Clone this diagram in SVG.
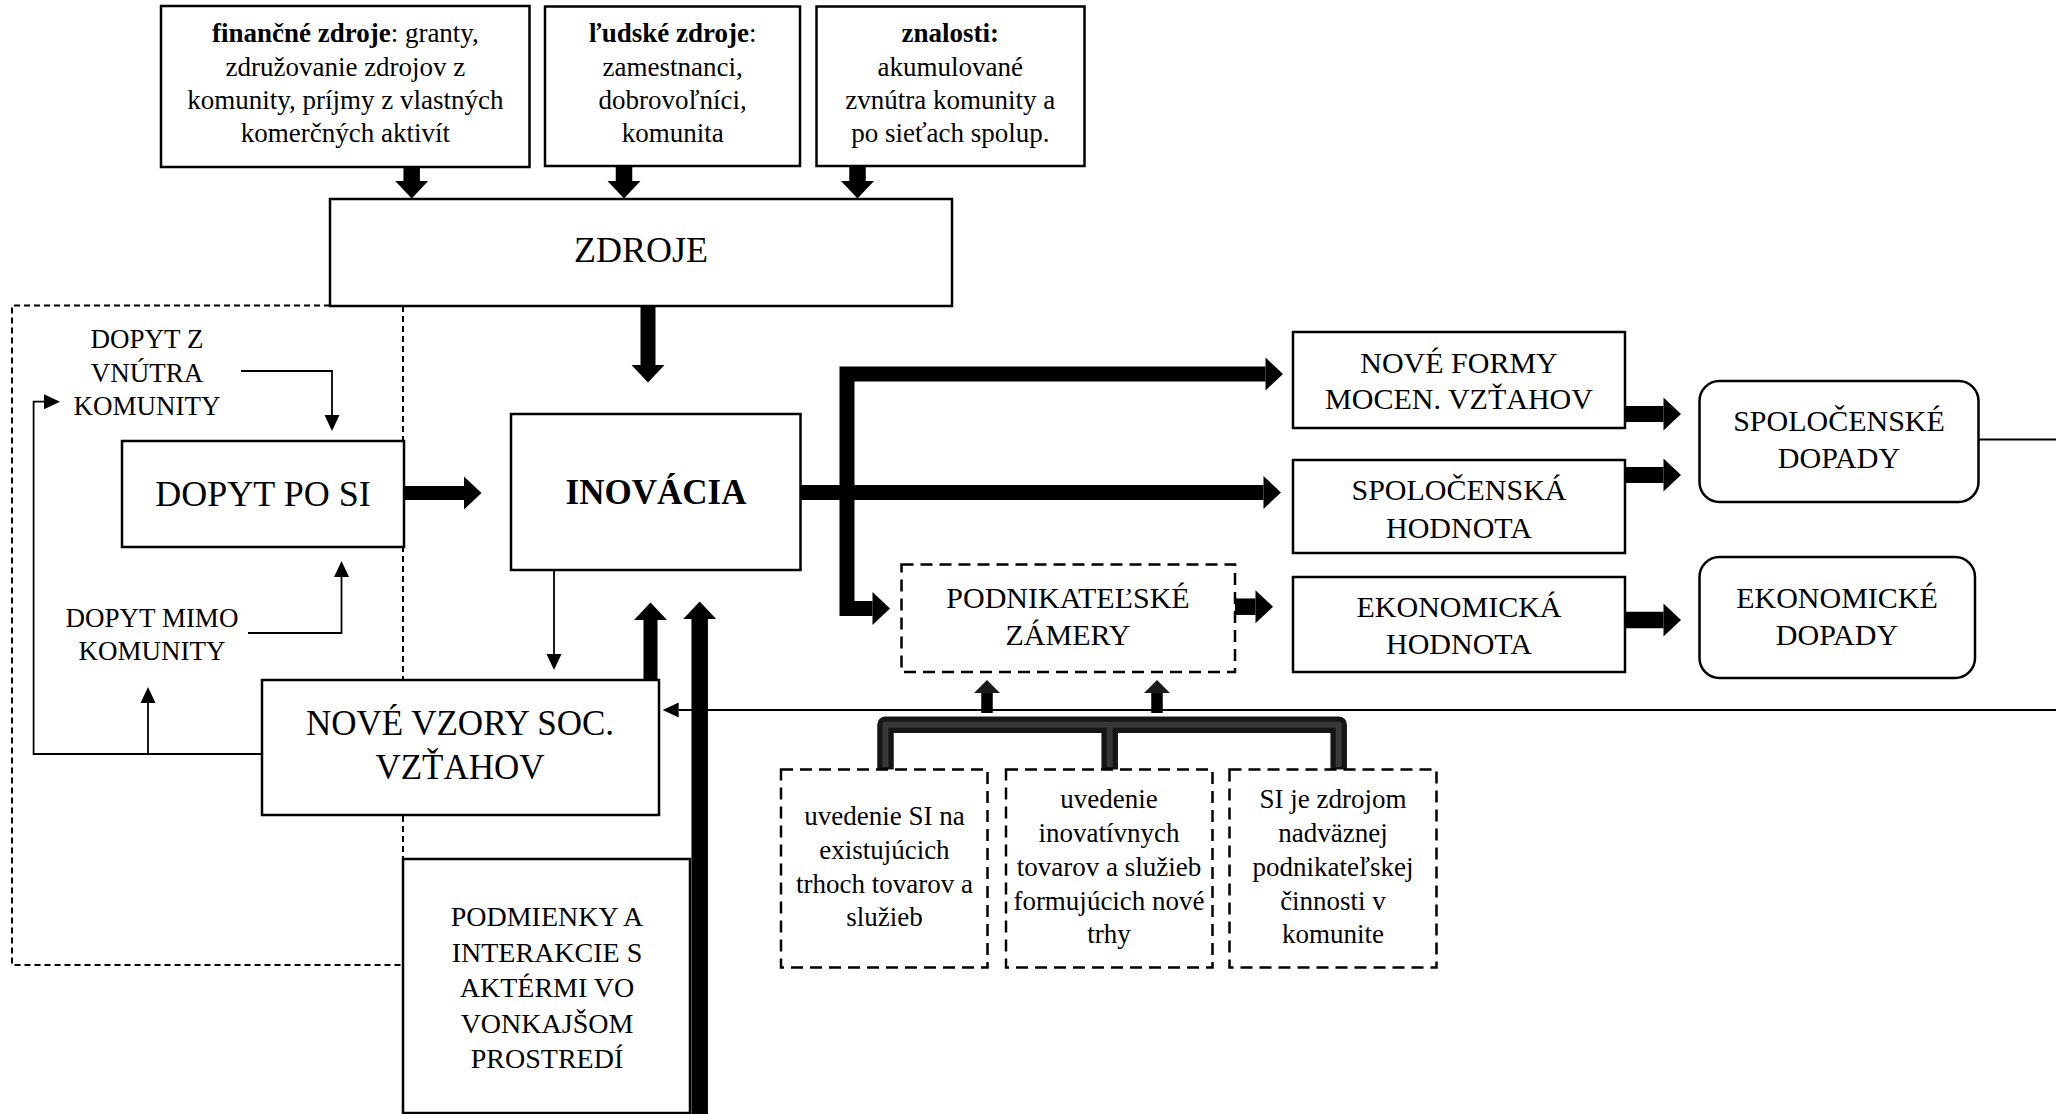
<svg xmlns="http://www.w3.org/2000/svg" width="2056" height="1114" viewBox="0 0 2056 1114">
<style>
.box{fill:#fff;stroke:#000;stroke-width:2.5}
.dbox{fill:#fff;stroke:#000;stroke-width:2.5;stroke-dasharray:12 7}
.region{fill:none;stroke:#000;stroke-width:2;stroke-dasharray:6 4}
.thick{fill:none;stroke:#000;stroke-linejoin:miter}
.thin{fill:none;stroke:#000;stroke-width:1.8}
.txt{font-family:"Liberation Serif","Times New Roman",serif;fill:#000;text-anchor:middle}
.s27{font-size:27px}
.s28{font-size:28px}
.s30{font-size:30px}
.s35{font-size:35px}
.s36{font-size:36px}
.b{font-weight:bold}
</style>
<defs>
<marker id="ah" markerUnits="userSpaceOnUse" markerWidth="18" markerHeight="33" refX="0" refY="16.5" orient="auto-start-reverse" overflow="visible"><path d="M0,0 L17.5,16.5 L0,33 z" fill="#000"/></marker>
<marker id="ahs" markerUnits="userSpaceOnUse" markerWidth="13" markerHeight="26" refX="0" refY="13" orient="auto" overflow="visible"><path d="M0,0 L13,13 L0,26 z" fill="#1a1a1a"/></marker>
<marker id="tah" markerUnits="userSpaceOnUse" markerWidth="16" markerHeight="15" refX="0" refY="7.5" orient="auto" overflow="visible"><path d="M0,0 L16,7.5 L0,15 z" fill="#000"/></marker>
</defs>
<rect x="0" y="0" width="2056" height="1114" fill="#fff"/>

<g id="region-community">
<path class="region" d="M330,305.5 H12 V965 H403"/>
<path class="region" d="M403,306 V859"/>
</g>

<g id="connectors">
<path class="thick" stroke-width="16.5" d="M411.7,167 V181" marker-end="url(#ah)"/>
<path class="thick" stroke-width="16.5" d="M624,166 V181" marker-end="url(#ah)"/>
<path class="thick" stroke-width="16.5" d="M857.5,166 V181" marker-end="url(#ah)"/>
<path class="thick" stroke-width="15" d="M648,306 V365" marker-end="url(#ah)"/>
<path class="thick" stroke-width="14" d="M404,493 H464" marker-end="url(#ah)"/>
<path class="thick" stroke-width="15" d="M800,492.5 H1263.5" marker-end="url(#ah)"/>
<path class="thick" stroke-width="15" d="M1265.5,374 H847 V608.5 H872.5" marker-start="url(#ah)" marker-end="url(#ah)"/>
<path class="thick" stroke-width="16" d="M1624.5,414 H1663.5" marker-end="url(#ah)"/>
<path class="thick" stroke-width="16" d="M1624.5,475 H1663.5" marker-end="url(#ah)"/>
<path class="thick" stroke-width="16.5" d="M1234.8,606.7 H1255.5" marker-end="url(#ah)"/>
<path class="thick" stroke-width="16.5" d="M1624.5,620 H1663.5" marker-end="url(#ah)"/>
<path class="thick" stroke-width="14" d="M650.5,680 V620" marker-end="url(#ah)"/>
<path class="thick" stroke-width="16.5" d="M699.7,1114 V619" marker-end="url(#ah)"/>
<path class="thin" d="M241,371 H332 V415" marker-end="url(#tah)"/>
<path class="thin" d="M248,633 H341.5 V577" marker-end="url(#tah)"/>
<path class="thin" d="M554,570 V654" marker-end="url(#tah)"/>
<path class="thin" d="M263,754 H33.6 V401.7 H44" marker-end="url(#tah)"/>
<path class="thin" d="M148,754 V703" marker-end="url(#tah)"/>
<path class="thin" d="M2056,710 H678.7" marker-end="url(#tah)"/>
<path class="thin" d="M1978.5,439.5 H2056"/>
<path fill="none" stroke="#151515" stroke-width="16.5" stroke-linejoin="round" d="M885.5,770 V724.7 H1338.7 V770 M1109.7,724.7 V770"/>
<path fill="none" stroke="#383838" stroke-width="6" stroke-linejoin="round" d="M885.5,767 V724.7 H1338.7 V767 M1109.7,724.7 V767"/>
<path class="thick" stroke="#1a1a1a" stroke-width="11.5" d="M987,713 V693" marker-end="url(#ahs)"/>
<path class="thick" stroke="#1a1a1a" stroke-width="11.5" d="M1157,713 V693" marker-end="url(#ahs)"/>
</g>

<g id="node-financne-zdroje">
<rect class="box" x="161" y="6" width="368.5" height="161"/>
<text class="txt s27" x="345.4" y="42"><tspan class="b">finančné zdroje</tspan>: granty,</text>
<text class="txt s27" x="345.4" y="76">združovanie zdrojov z</text>
<text class="txt s27" x="345.4" y="109">komunity, príjmy z vlastných</text>
<text class="txt s27" x="345.4" y="142">komerčných aktivít</text>
</g>
<g id="node-ludske-zdroje">
<rect class="box" x="545" y="6.5" width="255" height="159.5"/>
<text class="txt s27" x="672.7" y="42"><tspan class="b">ľudské zdroje</tspan>:</text>
<text class="txt s27" x="672.7" y="76">zamestnanci,</text>
<text class="txt s27" x="672.7" y="109">dobrovoľníci,</text>
<text class="txt s27" x="672.7" y="142">komunita</text>
</g>
<g id="node-znalosti">
<rect class="box" x="816.5" y="6.5" width="268" height="159.5"/>
<text class="txt s27 b" x="950.3" y="42">znalosti:</text>
<text class="txt s27" x="950.3" y="76">akumulované</text>
<text class="txt s27" x="950.3" y="109">zvnútra komunity a</text>
<text class="txt s27" x="950.3" y="142">po sieťach spolup.</text>
</g>
<g id="node-zdroje">
<rect class="box" x="330" y="199" width="622" height="107"/>
<text class="txt s36" x="641" y="262">ZDROJE</text>
</g>
<g id="node-inovacia">
<rect class="box" x="511" y="414" width="289.5" height="156"/>
<text class="txt s35 b" x="656" y="504">INOVÁCIA</text>
</g>
<g id="node-dopyt-po-si">
<rect class="box" x="122" y="441" width="282" height="106"/>
<text class="txt s36" x="263" y="506">DOPYT PO SI</text>
</g>
<g id="node-dopyt-z-vnutra">
<text class="txt s27" x="147" y="348">DOPYT Z</text>
<text class="txt s27" x="147" y="381.5">VNÚTRA</text>
<text class="txt s27" x="147" y="415">KOMUNITY</text>
</g>
<g id="node-dopyt-mimo">
<text class="txt s27" x="152" y="627">DOPYT MIMO</text>
<text class="txt s27" x="152" y="660">KOMUNITY</text>
</g>
<g id="node-nove-vzory">
<rect class="box" x="262" y="680" width="397" height="135"/>
<text class="txt s35" x="460" y="735">NOVÉ VZORY SOC.</text>
<text class="txt s35" x="460" y="779">VZŤAHOV</text>
</g>
<g id="node-podmienky">
<rect class="box" x="403" y="859" width="287" height="254"/>
<text class="txt s28" x="547" y="926">PODMIENKY A</text>
<text class="txt s28" x="547" y="961.5">INTERAKCIE S</text>
<text class="txt s28" x="547" y="997">AKTÉRMI VO</text>
<text class="txt s28" x="547" y="1032.5">VONKAJŠOM</text>
<text class="txt s28" x="547" y="1068">PROSTREDÍ</text>
</g>
<g id="node-nove-formy">
<rect class="box" x="1293" y="332" width="332" height="96"/>
<text class="txt s30" x="1459" y="373">NOVÉ FORMY</text>
<text class="txt s30" x="1459" y="409">MOCEN. VZŤAHOV</text>
</g>
<g id="node-spolocenska-hodnota">
<rect class="box" x="1293" y="460" width="332" height="93"/>
<text class="txt s30" x="1459" y="500">SPOLOČENSKÁ</text>
<text class="txt s30" x="1459" y="538">HODNOTA</text>
</g>
<g id="node-ekonomicka-hodnota">
<rect class="box" x="1293" y="577" width="332" height="95"/>
<text class="txt s30" x="1459" y="617">EKONOMICKÁ</text>
<text class="txt s30" x="1459" y="654">HODNOTA</text>
</g>
<g id="node-podnikatelske-zamery">
<rect class="dbox" x="901.5" y="564.5" width="333.5" height="107.5"/>
<text class="txt s30" x="1068" y="608">PODNIKATEĽSKÉ</text>
<text class="txt s30" x="1068" y="645">ZÁMERY</text>
</g>
<g id="node-spolocenske-dopady">
<rect class="box" x="1699.5" y="381" width="279" height="121" rx="20"/>
<text class="txt s30" x="1839" y="431">SPOLOČENSKÉ</text>
<text class="txt s30" x="1839" y="468">DOPADY</text>
</g>
<g id="node-ekonomicke-dopady">
<rect class="box" x="1699.5" y="557" width="275.5" height="121" rx="20"/>
<text class="txt s30" x="1837" y="608">EKONOMICKÉ</text>
<text class="txt s30" x="1837" y="645">DOPADY</text>
</g>
<g id="node-existujuce-trhy">
<rect class="dbox" x="781" y="769.5" width="206.5" height="198"/>
<text class="txt s27" x="884.4" y="825">uvedenie SI na</text>
<text class="txt s27" x="884.4" y="859">existujúcich</text>
<text class="txt s27" x="884.4" y="892.5">trhoch tovarov a</text>
<text class="txt s27" x="884.4" y="926">služieb</text>
</g>
<g id="node-nove-trhy">
<rect class="dbox" x="1006" y="769.5" width="206.5" height="198"/>
<text class="txt s27" x="1109" y="808">uvedenie</text>
<text class="txt s27" x="1109" y="842">inovatívnych</text>
<text class="txt s27" x="1109" y="876">tovarov a služieb</text>
<text class="txt s27" x="1109" y="910">formujúcich nové</text>
<text class="txt s27" x="1109" y="943">trhy</text>
</g>
<g id="node-nadvazna-cinnost">
<rect class="dbox" x="1229.5" y="769.5" width="207" height="198"/>
<text class="txt s27" x="1333" y="808">SI je zdrojom</text>
<text class="txt s27" x="1333" y="842">nadväznej</text>
<text class="txt s27" x="1333" y="876">podnikateľskej</text>
<text class="txt s27" x="1333" y="910">činnosti v</text>
<text class="txt s27" x="1333" y="943">komunite</text>
</g>
</svg>
